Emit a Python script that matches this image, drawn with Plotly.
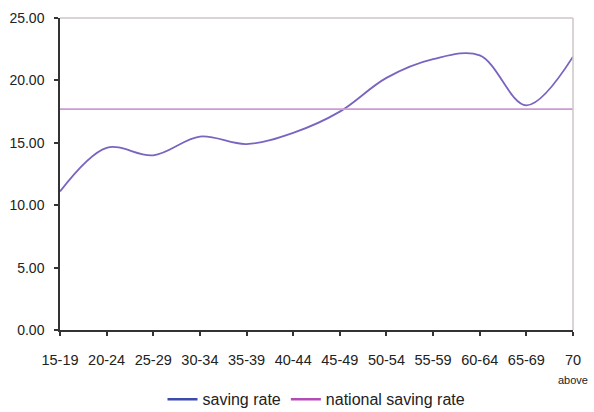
import plotly.graph_objects as go

# Age groups and saving rates (%)
age_groups = ["15-19", "20-24", "25-29", "30-34", "35-39", "40-44",
              "45-49", "50-54", "55-59", "60-64", "65-69", "70 above"]
saving_rate = [11.1, 14.6, 14.0, 15.5, 14.9, 15.8,
               17.5, 20.2, 21.7, 22.0, 18.0, 21.9]
national_saving_rate = 17.7

y_ticks = [0, 5, 10, 15, 20, 25]
y_tick_text = ["0.00", "5.00", "10.00", "15.00", "20.00", "25.00"]

x_pos = list(range(len(age_groups)))
# last category is split: "70" on the tick, "above" as a second line below
x_tick_text = [g.split(" ")[0] for g in age_groups]
last_sub = age_groups[-1].split(" ", 1)[1]

FONT = "Liberation Sans, Arial, sans-serif"

fig = go.Figure()
fig.add_trace(go.Scatter(
    x=x_pos, y=saving_rate, mode="lines", name="saving rate", showlegend=False,
    line=dict(color="#7a64c0", width=1.8, shape="spline", smoothing=1.0),
))
fig.add_trace(go.Scatter(
    x=[x_pos[0], x_pos[-1]], y=[national_saving_rate] * 2, mode="lines",
    name="national saving rate", showlegend=False,
    line=dict(color="#cc9ad4", width=1.8),
))
# legend keys
fig.add_trace(go.Scatter(x=[None], y=[None], mode="lines", name="saving rate",
                         line=dict(color="#3c4aaa", width=2.5)))
fig.add_trace(go.Scatter(x=[None], y=[None], mode="lines", name="national saving rate",
                         line=dict(color="#b44cb8", width=2.5)))

fig.update_layout(
    width=594, height=412,
    margin=dict(l=60, r=21, t=18, b=82, autoexpand=False),
    paper_bgcolor="white", plot_bgcolor="white",
    font=dict(family=FONT, size=14, color="#222"),
    showlegend=True,
    legend=dict(orientation="h", x=0.5, xanchor="center", y=-0.222, yanchor="middle",
                font=dict(size=16, color="#222"), tracegroupgap=0,
                bgcolor="rgba(0,0,0,0)"),
    xaxis=dict(
        range=[0, len(age_groups) - 1], tickmode="array", tickvals=x_pos,
        ticktext=x_tick_text, showgrid=False, zeroline=False,
        showline=True, linecolor="#333", linewidth=1.5,
        ticks="outside", ticklen=4, tickcolor="#333", tickwidth=1.5,
        tickfont=dict(size=14.5), ticklabelstandoff=12,
    ),
    yaxis=dict(
        range=[0, 25], tickmode="array", tickvals=y_ticks, ticktext=y_tick_text,
        showgrid=False, zeroline=False,
        showline=True, linecolor="#333", linewidth=1.5,
        ticks="outside", ticklen=4, tickcolor="#333", tickwidth=1.5,
        tickfont=dict(size=14), ticklabelstandoff=7,
    ),
    shapes=[
        dict(type="line", xref="paper", yref="paper", x0=0, x1=1, y0=1, y1=1,
             line=dict(color="#cfc6c6", width=1.5)),
        dict(type="line", xref="paper", yref="paper", x0=1, x1=1, y0=0, y1=1,
             line=dict(color="#cfc6c6", width=1.5)),
    ],
    annotations=[
        dict(x=x_pos[-1], xref="x", y=-0.16, yref="paper", yanchor="middle",
             text=last_sub, showarrow=False, font=dict(size=11, color="#222")),
    ],
)

fig.write_html("out.html")
